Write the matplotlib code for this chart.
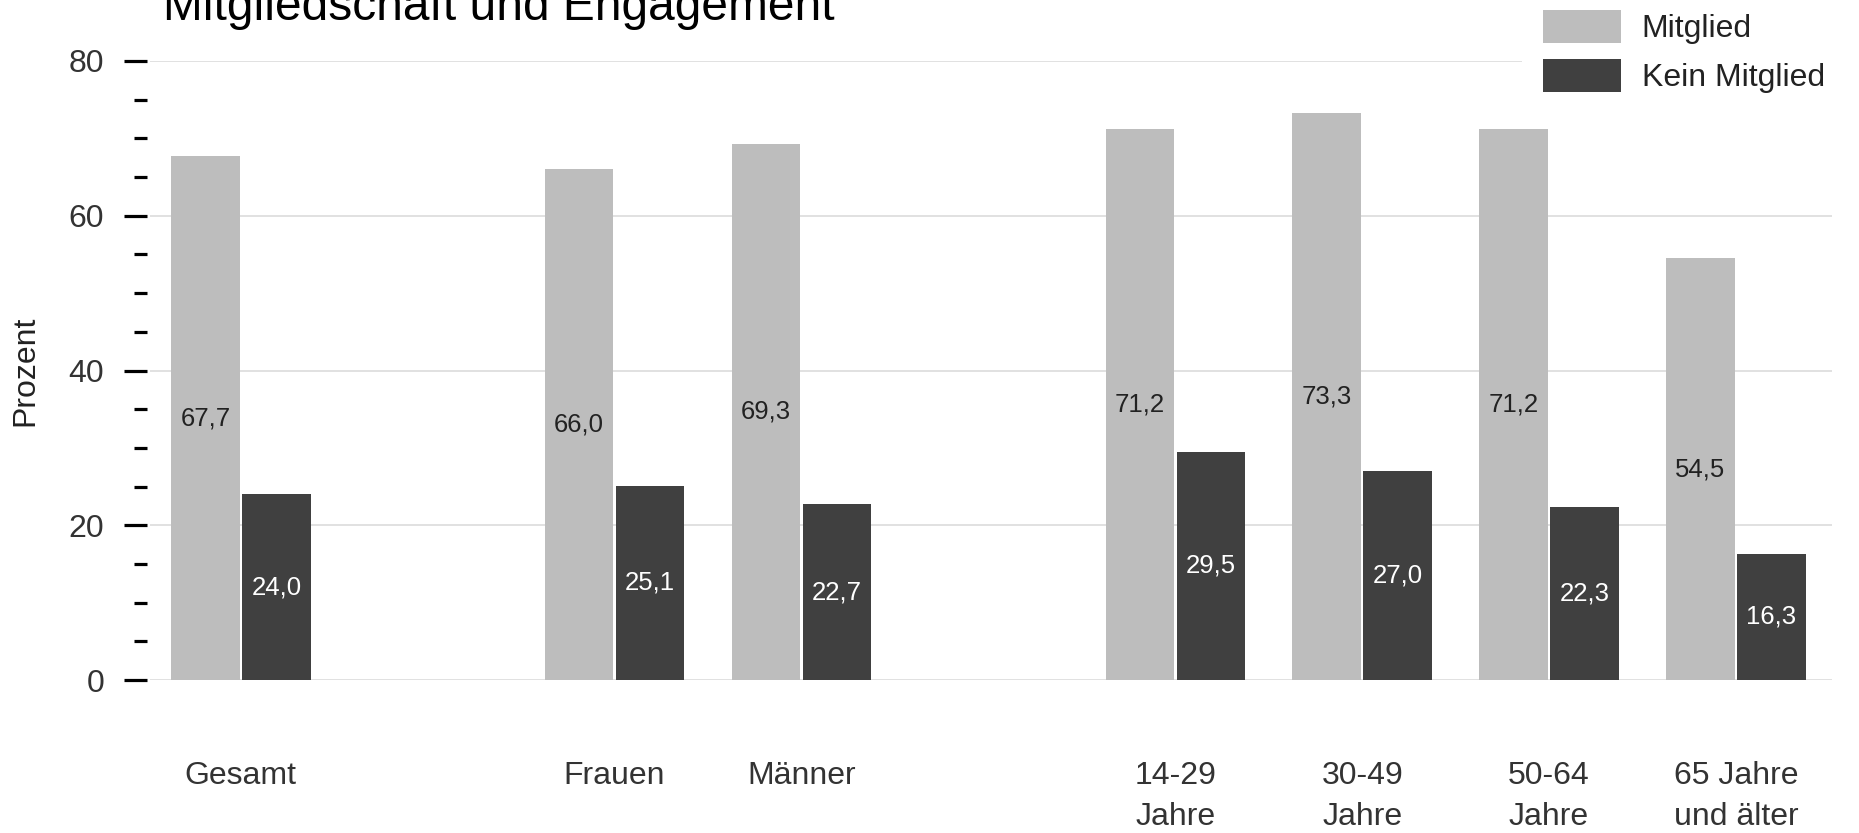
import numpy as np
import matplotlib
matplotlib.use("Agg")
import matplotlib.pyplot as plt
from matplotlib.ticker import MultipleLocator

plt.rcParams['font.family'] = ['Liberation Sans', 'DejaVu Sans']

# data
categories = ["Gesamt", "Frauen", "Männer", "14-29\nJahre", "30-49\nJahre",
              "50-64\nJahre", "65 Jahre\nund älter"]
mitglied = [67.7, 66.0, 69.3, 71.2, 73.3, 71.2, 54.5]
kein_mitglied = [24.0, 25.1, 22.7, 29.5, 27.0, 22.3, 16.3]
series_names = ["Mitglied", "Kein Mitglied"]
title = "Mitgliedschaft und Engagement"
ylabel = "Prozent"

# layout: blank slots between the groups
slots = np.array([0, 2, 3, 5, 6, 7, 8])
bar_w = 0.366
offset = 0.19

W, H = 1859, 833
fig = plt.figure(figsize=(W / 100, H / 100), dpi=100)
ax = fig.add_axes([150 / W, (H - 680) / H, (1832 - 150) / W, (680 - 61) / H])

c_light = "#bdbdbd"
c_dark = "#404040"
b1 = ax.bar(slots - offset, mitglied, bar_w, color=c_light, label=series_names[0], zorder=2)
b2 = ax.bar(slots + offset, kein_mitglied, bar_w, color=c_dark, label=series_names[1], zorder=2)

fmt = lambda vals: [f"{v:.1f}".replace(".", ",") for v in vals]
ax.bar_label(b1, labels=fmt(mitglied), label_type="center", fontsize=18.5, color="#222222")
ax.bar_label(b2, labels=fmt(kein_mitglied), label_type="center", fontsize=18.5, color="white")

ax.set_xlim(-0.486, 8.514)
ax.set_ylim(0, 80)
ax.set_yticks([0, 20, 40, 60, 80])
ax.yaxis.set_minor_locator(MultipleLocator(5))
ax.set_axisbelow(True)
ax.grid(axis="y", color="#dcdcdc", linewidth=1.2)
ax.yaxis.get_gridlines()[0].set_visible(False)

for s in ax.spines.values():
    s.set_visible(False)
ax.spines["left"].set_position(("outward", 2))

ax.tick_params(axis="y", which="major", length=16.5, width=2.3, color="black",
               pad=14.4, labelsize=23, labelcolor="#333333")
ax.tick_params(axis="y", which="minor", length=9.3, width=2.3, color="black")

ax.set_xticks(slots)
ax.set_xticklabels(categories, fontsize=23, color="#333333", linespacing=1.48)
ax.tick_params(axis="x", length=0, pad=58)

ax.set_ylabel(ylabel, fontsize=23, color="#222222")
ax.yaxis.set_label_coords(-0.0654, 0.5)

fig.text(163 / W, 1 - 20 / H, title, fontsize=34.5, va="baseline", color="black")

ax.legend(loc="upper left", bbox_to_anchor=(1522 / W, 1 + 11 / H),
          bbox_transform=fig.transFigure, fontsize=23, frameon=True,
          facecolor="white", edgecolor="none", framealpha=1, fancybox=False,
          borderpad=0.65, borderaxespad=0, handlelength=2.44, handleheight=1.23,
          handletextpad=0.66, labelspacing=0.45, labelcolor="#222222")

fig.savefig("out.png", dpi=100)
